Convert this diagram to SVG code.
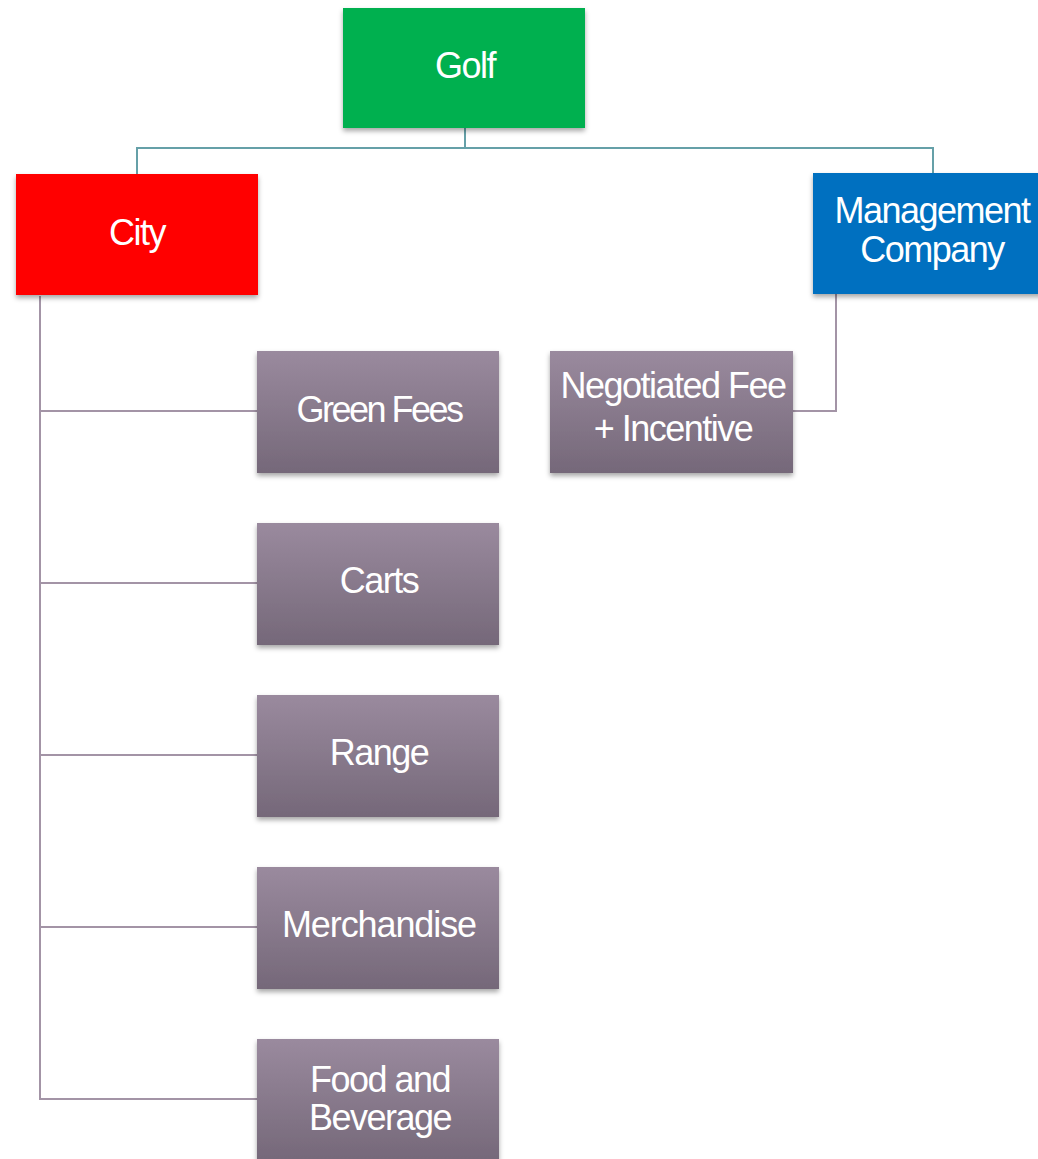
<svg xmlns="http://www.w3.org/2000/svg" width="1038" height="1159" viewBox="0 0 1038 1159">
<defs>
<linearGradient id="purple" x1="0" y1="0" x2="0" y2="1">
<stop offset="0" stop-color="#9A8A9E"/>
<stop offset="1" stop-color="#756879"/>
</linearGradient>
<filter id="sh" x="-10%" y="-10%" width="120%" height="130%">
<feDropShadow dx="0" dy="3" stdDeviation="2.5" flood-color="#000" flood-opacity="0.35"/>
</filter>
<style>
.box{filter:url(#sh)}
.p{fill:url(#purple)}
.t{font-family:"Liberation Sans",Arial,sans-serif;font-size:36px;fill:#fff;text-anchor:middle;letter-spacing:-1.5px}
.ct{fill:none;stroke:#65A0A8;stroke-width:2}
.cp{fill:none;stroke:#A394A6;stroke-width:2}
</style>
</defs>
<rect width="1038" height="1159" fill="#fff"/>
<g id="connectors">
<polyline class="ct" points="465,128 465,148 137,148 137,174"/>
<polyline class="ct" points="465,148 933,148 933,173"/>
<polyline class="cp" points="40,296 40,1099 257,1099"/>
<line class="cp" x1="40" y1="411" x2="257" y2="411"/>
<line class="cp" x1="40" y1="583" x2="257" y2="583"/>
<line class="cp" x1="40" y1="755" x2="257" y2="755"/>
<line class="cp" x1="40" y1="927" x2="257" y2="927"/>
<polyline class="cp" points="836,294 836,411 793,411"/>
</g>
<g id="golf"><rect class="box" x="343" y="8" width="242" height="120" fill="#00B050"/><text class="t" x="465" y="78">Golf</text></g>
<g id="city"><rect class="box" x="16" y="174" width="242" height="121" fill="#FF0000"/><text class="t" x="137" y="245">City</text></g>
<g id="management"><rect class="box" x="813" y="173" width="242" height="121" fill="#0070C0"/><text class="t" x="932" y="223">Management</text><text class="t" x="932" y="262">Company</text></g>
<g id="negotiated"><rect class="box p" x="550" y="351" width="243" height="122"/><text class="t" x="673" y="398">Negotiated Fee</text><text class="t" x="673" y="441">+ Incentive</text></g>
<g id="greenfees"><rect class="box p" x="257" y="351" width="242" height="122"/><text class="t" x="379" y="422" style="letter-spacing:-2.5px">Green Fees</text></g>
<g id="carts"><rect class="box p" x="257" y="523" width="242" height="122"/><text class="t" x="379" y="593">Carts</text></g>
<g id="range"><rect class="box p" x="257" y="695" width="242" height="122"/><text class="t" x="379" y="765">Range</text></g>
<g id="merchandise"><rect class="box p" x="257" y="867" width="242" height="122"/><text class="t" x="379" y="937" style="letter-spacing:-1.1px">Merchandise</text></g>
<g id="food"><rect class="box p" x="257" y="1039" width="242" height="122"/><text class="t" x="380" y="1092">Food and</text><text class="t" x="380" y="1130">Beverage</text></g>
</svg>
